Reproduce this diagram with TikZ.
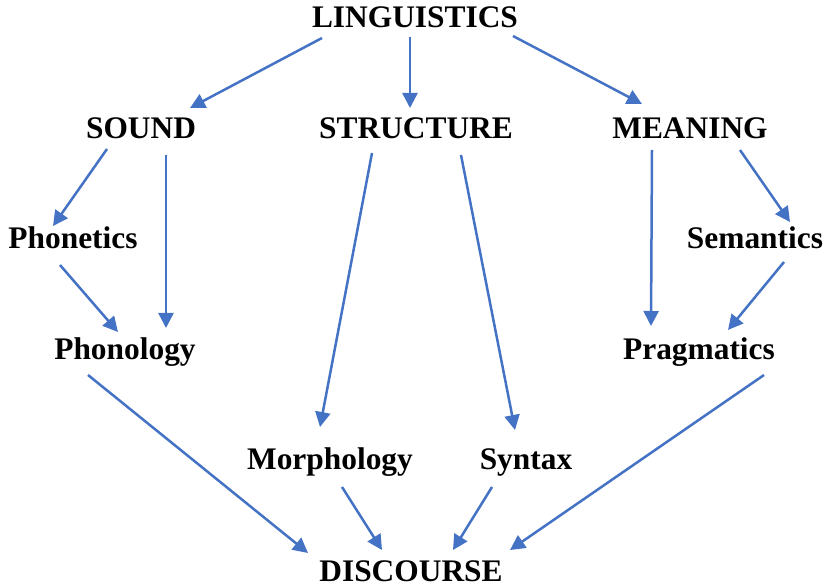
\documentclass[tikz,border=0pt]{standalone}
\usepackage{fontspec}
\setmainfont{Liberation Serif}
\usetikzlibrary{arrows.meta}
\definecolor{arrowblue}{HTML}{4472C4}
\begin{document}
\begin{tikzpicture}[x=1pt,y=-1pt,
  lbl/.style={anchor=base,inner sep=0pt,font=\fontsize{31.4}{36}\selectfont\bfseries},
  conn/.style={draw=arrowblue,line width=2.5pt,-{Triangle[length=15pt,width=15pt]}}]
\useasboundingbox (0,0) rectangle (828,585);
\node[lbl] (ling) at (415,28) {LINGUISTICS};
\node[lbl] (sound) at (141,139) {SOUND};
\node[lbl] (structure) at (416,139) {STRUCTURE};
\node[lbl] (meaning) at (690,139) {MEANING};
\node[lbl] (phonetics) at (73,249) {Phonetics};
\node[lbl] (semantics) at (755,249) {Semantics};
\node[lbl] (phonology) at (125,360) {Phonology};
\node[lbl] (pragmatics) at (699,360) {Pragmatics};
\node[lbl] (morph) at (330,470) {Morphology};
\node[lbl] (syntax) at (526,470) {Syntax};
\node[lbl] (disc) at (411,581) {DISCOURSE};
\draw[conn] ([shift={(-93,10)}]ling.base) -- ([shift={(49,-31)}]sound.base);
\draw[conn] ([shift={(-5,9)}]ling.base) -- ([shift={(-6,-31)}]structure.base);
\draw[conn] ([shift={(98,8)}]ling.base) -- ([shift={(-48,-35)}]meaning.base);
\draw[conn] ([shift={(-34,10)}]sound.base) -- ([shift={(-20,-23)}]phonetics.base);
\draw[conn] ([shift={(25,16)}]sound.base) -- ([shift={(41,-32)}]phonology.base);
\draw[conn] ([shift={(-13,16)}]phonetics.base) -- ([shift={(-7,-28)}]phonology.base);
\draw[conn] ([shift={(-44,14)}]structure.base) -- ([shift={(-10,-43)}]morph.base);
\draw[conn] ([shift={(45,16)}]structure.base) -- ([shift={(-11,-40)}]syntax.base);
\draw[conn] ([shift={(-38,11)}]meaning.base) -- ([shift={(-48,-34)}]pragmatics.base);
\draw[conn] ([shift={(50,11)}]meaning.base) -- ([shift={(35,-27)}]semantics.base);
\draw[conn] ([shift={(29,13)}]semantics.base) -- ([shift={(29,-30)}]pragmatics.base);
\draw[conn] ([shift={(-37,15)}]phonology.base) -- ([shift={(-103,-28)}]disc.base);
\draw[conn] ([shift={(12,17)}]morph.base) -- ([shift={(-29,-31)}]disc.base);
\draw[conn] ([shift={(-34,17)}]syntax.base) -- ([shift={(42,-31)}]disc.base);
\draw[conn] ([shift={(65,15)}]pragmatics.base) -- ([shift={(99,-31)}]disc.base);
\end{tikzpicture}
\end{document}
